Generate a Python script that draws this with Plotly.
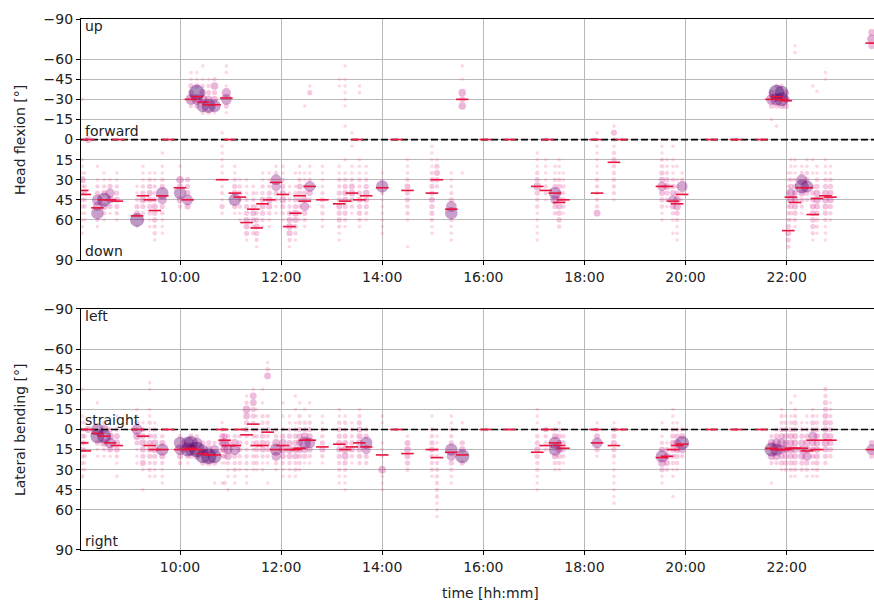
import plotly.graph_objects as go
from plotly.subplots import make_subplots

# ---------------- data ----------------
# Head flexion panel: column times, median per column, (angle, count) per column
flex_times = ["08:04", "08:07", "08:11", "08:22", "08:30", "08:37", "08:45", "08:47",
              "09:09", "09:16", "09:24", "09:30", "09:39", "09:46", "10:00", "10:09",
              "10:13", "10:20", "10:27", "10:34", "10:41", "10:50", "10:55", "10:59",
              "11:05", "11:11", "11:19", "11:27", "11:31", "11:38", "11:46", "11:54",
              "12:02", "12:10", "12:17", "12:22", "12:28", "12:34", "12:49", "13:09",
              "13:16", "13:24", "13:30", "13:33", "13:41", "14:00", "14:17", "14:30",
              "14:59", "15:05", "15:22", "15:35", "16:03", "16:31", "17:04", "17:14",
              "17:16", "17:25", "17:30", "17:35", "18:13", "18:15", "18:35", "18:44",
              "19:32", "19:38", "19:45", "19:50", "19:56", "20:31", "21:00", "21:30",
              "21:42", "21:48", "21:54", "21:59", "22:02", "22:05", "22:10", "22:18",
              "22:24", "22:31", "22:36", "22:46", "22:52", "23:41"]
flex_medians = [38, 41, 0, 51, 45, 45, 46, 0,
                57, 42, 45, 53, 42, 0, 36, 45,
                -30, -32, -28, -26, -26, 30, -31, 0,
                40, 43, 62, 52, 66, 48, 45, 32,
                41, 65, 55, 42, 46, 35, 45, 48,
                46, 40, 0, 45, 42, 36, 0, 38,
                40, 30, 52, -30, 0, 0, 35, 38,
                0, 40, 47, 45, 0, 40, 17, 0,
                35, 35, 46, 48, 41, 0, 0, 0,
                -30, -32, -30, -29, 68, 43, 47, 36,
                36, 56, 44, 42, 43, -72]
flex_points = [
    [(-30, 1), (15, 1), (20, 1), (25, 1), (30, 5), (35, 2), (40, 2), (45, 2), (50, 2), (55, 1), (60, 1), (65, 1), (70, 1)],
    [(25, 1), (35, 2), (40, 3), (45, 2), (50, 2), (55, 1), (60, 1)],
    [(0, 5)],
    [(20, 1), (30, 1), (35, 2), (40, 3), (45, 10), (50, 8), (55, 12), (60, 2), (65, 1)],
    [(25, 1), (30, 1), (35, 2), (40, 4), (45, 14), (50, 5), (55, 2), (60, 1)],
    [(30, 1), (35, 3), (40, 8), (45, 6), (50, 3), (55, 1)],
    [(25, 1), (30, 1), (35, 2), (40, 3), (45, 4), (50, 3), (55, 2), (60, 1)],
    [(0, 1)],
    [(35, 1), (40, 1), (45, 2), (50, 3), (55, 4), (60, 14), (65, 1)],
    [(20, 1), (25, 1), (30, 1), (35, 2), (40, 3), (45, 5), (50, 3), (55, 2), (60, 1)],
    [(25, 1), (30, 2), (35, 3), (40, 4), (45, 4), (50, 3), (55, 2), (60, 1), (65, 1)],
    [(25, 1), (30, 1), (35, 2), (40, 2), (45, 3), (50, 4), (55, 3), (60, 3), (65, 2), (70, 2), (75, 1)],
    [(10, 1), (20, 1), (25, 1), (30, 2), (35, 3), (40, 12), (45, 8), (50, 3), (55, 2), (60, 1), (65, 1), (70, 1)],
    [(0, 1)],
    [(20, 1), (30, 6), (35, 4), (40, 12), (45, 5), (50, 2)],
    [(30, 3), (35, 3), (40, 4), (45, 10), (50, 4)],
    [(-50, 1), (-45, 1), (-40, 3), (-35, 4), (-30, 10), (-25, 2)],
    [(-50, 1), (-45, 1), (-40, 3), (-35, 16), (-30, 10), (-25, 3)],
    [(-55, 1), (-45, 1), (-40, 2), (-35, 5), (-30, 8), (-25, 12), (-20, 2)],
    [(-45, 1), (-40, 2), (-35, 3), (-30, 6), (-25, 14), (-20, 2)],
    [(-45, 2), (-40, 6), (-35, 3), (-30, 5), (-25, 12), (-20, 1)],
    [(-5, 1), (5, 1), (10, 1), (15, 1), (20, 1), (25, 1), (30, 1), (35, 1), (40, 2), (45, 1), (50, 3), (55, 1)],
    [(-55, 1), (-50, 1), (-40, 1), (-35, 8), (-30, 10), (-25, 3), (-20, 1)],
    [(0, 1)],
    [(20, 1), (25, 1), (30, 2), (35, 3), (40, 4), (45, 12), (50, 3), (55, 1)],
    [(30, 1), (35, 2), (40, 3), (45, 2), (50, 2), (55, 1), (60, 1)],
    [(30, 1), (35, 1), (40, 1), (45, 2), (50, 3), (55, 3), (60, 4), (65, 4), (70, 3), (75, 1)],
    [(35, 1), (40, 2), (45, 2), (50, 3), (55, 4), (60, 3), (65, 2), (70, 2)],
    [(40, 1), (50, 1), (55, 2), (60, 3), (65, 4), (70, 3), (75, 2), (80, 1)],
    [(25, 1), (30, 1), (35, 2), (40, 2), (45, 4), (50, 4), (55, 3), (60, 2), (65, 1)],
    [(25, 1), (30, 1), (35, 2), (40, 3), (45, 5), (50, 4), (55, 2), (60, 1), (65, 1)],
    [(20, 1), (25, 2), (30, 10), (35, 8), (40, 3), (45, 2), (50, 1), (55, 1)],
    [(20, 1), (25, 1), (30, 2), (35, 3), (40, 4), (45, 5), (50, 3), (55, 2), (60, 1), (65, 1)],
    [(35, 1), (40, 1), (45, 2), (50, 2), (55, 3), (60, 4), (65, 5), (70, 4), (75, 2), (80, 1)],
    [(25, 1), (35, 1), (40, 2), (45, 3), (50, 3), (55, 5), (60, 4), (65, 3), (70, 2), (75, 1)],
    [(20, 1), (25, 1), (30, 2), (35, 4), (40, 3), (45, 3), (50, 2), (55, 2), (60, 1)],
    [(-25, 1), (25, 1), (30, 1), (35, 2), (40, 3), (45, 4), (50, 8), (55, 3), (60, 2), (65, 1)],
    [(-40, 1), (-35, 3), (20, 1), (25, 1), (30, 2), (35, 10), (40, 4), (45, 2), (50, 1)],
    [(20, 1), (25, 1), (30, 1), (35, 1), (40, 2), (45, 3), (50, 2), (55, 2), (60, 1), (65, 1)],
    [(-45, 1), (-40, 1), (20, 1), (25, 1), (30, 2), (35, 2), (40, 3), (45, 3), (50, 4), (55, 3), (60, 3), (65, 2), (70, 1), (75, 1)],
    [(-55, 1), (-45, 1), (-40, 1), (-35, 1), (-30, 1), (-25, 1), (-10, 1), (15, 1), (25, 1), (30, 2), (35, 3), (40, 4), (45, 4), (50, 3), (55, 3), (60, 2), (65, 1)],
    [(-5, 1), (5, 1), (20, 1), (25, 1), (30, 2), (35, 4), (40, 5), (45, 3), (50, 2), (55, 1)],
    [(0, 1)],
    [(-40, 1), (-35, 1), (15, 1), (20, 1), (25, 1), (30, 2), (35, 2), (40, 3), (45, 4), (50, 3), (55, 3), (60, 2), (65, 1)],
    [(20, 1), (25, 1), (30, 2), (35, 3), (40, 5), (45, 4), (50, 3), (55, 2), (60, 1)],
    [(25, 1), (30, 1), (35, 12), (40, 2), (45, 1), (50, 1), (55, 1), (60, 1), (65, 1), (70, 1)],
    [(0, 1)],
    [(15, 1), (20, 1), (25, 1), (30, 2), (35, 4), (40, 3), (45, 3), (50, 2), (55, 2), (60, 1), (80, 1)],
    [(0, 1), (5, 1), (10, 1), (15, 1), (20, 1), (25, 2), (30, 3), (35, 3), (40, 3), (45, 4), (50, 3), (55, 3), (60, 2), (65, 1), (70, 1)],
    [(15, 1), (20, 3), (25, 4), (30, 3), (35, 2)],
    [(25, 1), (30, 1), (35, 1), (40, 2), (45, 3), (50, 10), (55, 12), (60, 2), (65, 1), (70, 1), (75, 1)],
    [(-55, 1), (-45, 1), (-35, 6), (-30, 4), (-25, 6), (25, 1)],
    [(0, 1)],
    [(0, 1)],
    [(10, 1), (15, 1), (20, 1), (25, 2), (30, 3), (35, 6), (40, 3), (45, 2), (50, 2), (55, 1), (60, 1), (65, 1), (70, 1), (75, 1)],
    [(0, 1), (15, 1), (20, 1), (25, 1), (30, 1), (35, 2), (40, 2), (45, 1)],
    [(0, 1)],
    [(20, 1), (25, 1), (30, 2), (35, 3), (40, 12), (45, 8), (50, 3), (55, 2)],
    [(15, 1), (20, 1), (25, 1), (30, 2), (35, 3), (40, 3), (45, 4), (50, 4), (55, 3), (60, 3), (65, 2)],
    [(25, 1), (30, 1), (35, 2), (40, 2), (45, 3), (50, 2), (55, 1)],
    [(0, 1)],
    [(-5, 1), (5, 1), (10, 1), (15, 1), (20, 1), (25, 1), (30, 2), (35, 2), (40, 2), (45, 2), (50, 2), (55, 5)],
    [(-10, 1), (-5, 4), (0, 2), (5, 1), (10, 2), (15, 3), (20, 2), (25, 2), (30, 2), (35, 2), (40, 2), (45, 1)],
    [(0, 1)],
    [(0, 1), (5, 1), (10, 1), (15, 2), (20, 2), (25, 3), (30, 4), (35, 8), (40, 4), (45, 3), (50, 2), (55, 1), (60, 1)],
    [(0, 1), (15, 1), (20, 1), (25, 2), (30, 3), (35, 5), (40, 3), (45, 2), (50, 1)],
    [(0, 1), (5, 1), (15, 1), (20, 1), (25, 1), (30, 2), (35, 3), (40, 4), (45, 8), (50, 4), (55, 2), (60, 1), (70, 1)],
    [(20, 1), (30, 1), (35, 2), (40, 3), (45, 6), (50, 6), (55, 3), (60, 2), (65, 1), (70, 1), (75, 1)],
    [(25, 1), (30, 2), (35, 10), (40, 2), (45, 1)],
    [(0, 1)],
    [(0, 1)],
    [(0, 1)],
    [(-35, 4), (-30, 10), (-25, 3), (-15, 1)],
    [(-40, 2), (-35, 16), (-30, 12), (-25, 3), (-10, 1)],
    [(-40, 2), (-35, 14), (-30, 14), (-25, 4)],
    [(-35, 3), (-30, 6), (-25, 4)],
    [(25, 1), (30, 1), (35, 1), (40, 1), (45, 1), (50, 2), (55, 2), (60, 2), (65, 3), (70, 4), (75, 3), (80, 2)],
    [(15, 1), (20, 1), (25, 1), (30, 2), (35, 3), (40, 8), (45, 6), (50, 3), (55, 2), (60, 1)],
    [(-70, 1), (-65, 1), (15, 1), (20, 1), (25, 1), (30, 2), (35, 3), (40, 4), (45, 5), (50, 4), (55, 3), (60, 2), (65, 1)],
    [(20, 1), (25, 2), (30, 10), (35, 14), (40, 5), (45, 3), (50, 2), (55, 1)],
    [(15, 1), (20, 1), (25, 2), (30, 3), (35, 12), (40, 3), (45, 2)],
    [(-40, 1), (15, 1), (25, 1), (35, 2), (40, 3), (45, 3), (50, 4), (55, 4), (60, 3), (65, 3), (70, 2), (75, 1)],
    [(-36, 1), (20, 1), (25, 1), (30, 2), (35, 3), (40, 5), (45, 6), (50, 4), (55, 3), (60, 2), (65, 2), (70, 1)],
    [(-50, 1), (-45, 1), (15, 1), (20, 1), (25, 1), (30, 2), (35, 3), (40, 5), (45, 5), (50, 4), (55, 3), (60, 2), (65, 1), (70, 1), (75, 1)],
    [(20, 1), (25, 1), (30, 2), (35, 3), (40, 4), (45, 5), (50, 3), (55, 2), (60, 1)],
    [(-80, 5), (-75, 8), (-70, 5)],
]

# Lateral bending panel
lat_times = ["08:04", "08:07", "08:11", "08:22", "08:30", "08:37", "08:45", "09:09",
             "09:16", "09:24", "09:30", "09:39", "09:46", "10:00", "10:09", "10:13",
             "10:20", "10:27", "10:34", "10:41", "10:50", "10:53", "10:57", "11:05",
             "11:11", "11:19", "11:27", "11:31", "11:38", "11:44", "11:54", "12:02",
             "12:10", "12:17", "12:22", "12:28", "12:34", "12:49", "13:09", "13:16",
             "13:24", "13:33", "13:41", "14:00", "14:17", "14:30", "14:59", "15:05",
             "15:22", "15:35", "16:03", "16:31", "17:04", "17:14", "17:16", "17:25",
             "17:30", "17:35", "18:13", "18:15", "18:35", "18:44", "19:32", "19:38",
             "19:45", "19:50", "19:56", "20:31", "21:00", "21:30", "21:42", "21:48",
             "21:54", "21:59", "22:05", "22:10", "22:18", "22:24", "22:31", "22:36",
             "22:46", "22:52", "23:41"]
lat_medians = [10, 16, 0, 3, 5, 10, 12, 0,
               5, 12, 15, 15, 0, 15, 15, 14,
               15, 18, 19, 19, 0, 8, 12, 12,
               0, 4, -4, 12, 12, 2, 15, 12,
               15, 15, 14, 8, 8, 13, 11, 15,
               13, 10, 13, 19, 0, 18, 15, 21,
               17, 19, 0, 0, 17, 12, 0, 10,
               12, 14, 0, 10, 12, 0, 21, 20,
               15, 12, 11, 0, 0, 0, 14, 15,
               15, 15, 14, 14, 14, 16, 8, 15,
               8, 8, 15]
lat_points = [
    [(-30, 1), (-10, 1), (-5, 1), (0, 2), (5, 3), (10, 3), (15, 3), (20, 2), (25, 2), (30, 1), (35, 2)],
    [(-5, 1), (0, 1), (5, 2), (10, 2), (15, 2), (20, 2), (25, 1), (30, 1)],
    [(0, 5)],
    [(-20, 1), (0, 12), (5, 14), (10, 3), (15, 1), (20, 1)],
    [(-5, 2), (0, 8), (5, 14), (10, 6), (15, 2), (20, 1)],
    [(0, 3), (5, 6), (10, 10), (15, 4), (20, 1)],
    [(-10, 1), (0, 2), (5, 4), (10, 5), (15, 4), (20, 2), (25, 1), (35, 1)],
    [(-15, 1), (-10, 1), (-5, 3), (0, 10), (5, 6), (10, 3), (15, 1), (20, 1), (25, 1)],
    [(-5, 1), (0, 3), (5, 4), (10, 5), (15, 4), (20, 3), (25, 4), (30, 1), (45, 1)],
    [(-35, 1), (-30, 1), (-15, 1), (-10, 1), (-5, 2), (0, 2), (5, 3), (10, 4), (15, 4), (20, 3), (25, 2), (30, 2), (35, 1)],
    [(-5, 1), (0, 2), (5, 3), (10, 5), (15, 5), (20, 3), (25, 2), (30, 1), (35, 1)],
    [(0, 1), (5, 2), (10, 4), (15, 12), (20, 4), (25, 2), (30, 1), (35, 1), (40, 1)],
    [(0, 1)],
    [(5, 2), (10, 12), (15, 10), (20, 4), (25, 2)],
    [(10, 12), (15, 14), (20, 3), (25, 1)],
    [(5, 3), (10, 14), (15, 12), (20, 3)],
    [(5, 2), (10, 10), (15, 16), (20, 5)],
    [(10, 3), (15, 10), (20, 14), (25, 3)],
    [(10, 3), (15, 6), (20, 16), (25, 4)],
    [(10, 2), (15, 8), (20, 14), (25, 3), (40, 1)],
    [(-5, 1), (0, 2), (5, 4), (10, 6), (15, 3), (20, 2), (25, 1), (40, 1)],
    [(0, 1), (5, 4), (10, 8), (15, 6), (20, 3), (25, 1), (40, 2)],
    [(5, 2), (10, 4), (15, 8), (20, 6), (25, 2), (30, 1), (35, 1), (45, 1)],
    [(5, 2), (10, 6), (15, 10), (20, 3), (25, 2), (30, 2), (35, 1), (40, 1)],
    [(0, 1), (5, 2), (10, 3), (15, 3), (20, 2), (25, 2), (30, 1)],
    [(-25, 1), (-20, 2), (-15, 6), (-10, 5), (-5, 3), (0, 3), (5, 2), (10, 2), (15, 2), (20, 2), (25, 2), (30, 1), (35, 1), (40, 1)],
    [(-30, 1), (-25, 5), (-20, 5), (-15, 3), (-10, 3), (-5, 2), (0, 2), (5, 2), (10, 2), (15, 2), (20, 2), (25, 2), (30, 1)],
    [(-15, 1), (-10, 1), (0, 2), (5, 2), (10, 3), (15, 3), (20, 2), (25, 2), (30, 1)],
    [(-30, 1), (-20, 1), (-10, 2), (-5, 2), (0, 2), (5, 3), (10, 4), (15, 4), (20, 2), (25, 1), (30, 1)],
    [(-50, 1), (-45, 2), (-40, 5), (-10, 2), (-5, 2), (0, 3), (5, 2), (10, 3), (15, 3), (20, 2), (25, 1), (40, 1)],
    [(0, 2), (5, 2), (10, 6), (15, 12), (20, 8), (25, 2), (30, 1)],
    [(-20, 1), (-10, 1), (0, 2), (5, 3), (10, 6), (15, 6), (20, 4), (25, 2), (30, 1), (35, 1)],
    [(-10, 1), (-5, 1), (0, 2), (5, 3), (10, 4), (15, 6), (20, 4), (25, 2), (30, 1), (35, 1)],
    [(-25, 1), (-15, 1), (-5, 1), (0, 2), (5, 3), (10, 4), (15, 5), (20, 4), (25, 2), (30, 2), (35, 1)],
    [(-20, 1), (-10, 2), (-5, 2), (0, 3), (5, 4), (10, 5), (15, 5), (20, 3), (25, 2), (30, 1)],
    [(-15, 1), (-5, 2), (0, 3), (5, 6), (10, 12), (15, 5), (20, 3), (25, 1)],
    [(-20, 1), (-10, 1), (-5, 2), (0, 3), (5, 4), (10, 10), (15, 4), (20, 2), (25, 1)],
    [(-10, 1), (-5, 1), (0, 2), (5, 2), (10, 3), (15, 4), (20, 2), (25, 1)],
    [(-15, 1), (-10, 1), (-5, 2), (0, 3), (5, 3), (10, 4), (15, 4), (20, 3), (25, 2), (30, 2), (35, 1), (40, 1)],
    [(-10, 1), (-5, 2), (0, 2), (5, 3), (10, 4), (15, 6), (20, 5), (25, 3), (30, 2), (35, 1), (40, 1), (45, 1)],
    [(-5, 1), (0, 2), (5, 2), (10, 3), (15, 4), (20, 2), (25, 1)],
    [(-15, 1), (-10, 2), (-5, 3), (0, 4), (5, 4), (10, 5), (15, 4), (20, 3), (25, 2)],
    [(0, 2), (5, 3), (10, 12), (15, 8), (20, 3), (25, 2)],
    [(-10, 1), (-5, 1), (10, 1), (15, 1), (20, 1), (30, 6), (35, 1), (40, 1), (45, 1)],
    [(0, 1)],
    [(5, 1), (10, 4), (15, 5), (20, 4), (25, 3), (30, 2)],
    [(-10, 1), (0, 2), (5, 2), (10, 3), (15, 4), (20, 3), (25, 2), (30, 2), (35, 1)],
    [(0, 1), (5, 1), (10, 1), (15, 2), (20, 2), (25, 2), (30, 2), (35, 2), (40, 2), (45, 2), (50, 2), (55, 1), (60, 1), (65, 1)],
    [(-10, 1), (-5, 1), (0, 2), (5, 2), (10, 3), (15, 12), (20, 8), (25, 3), (30, 2), (35, 1), (40, 1)],
    [(-5, 1), (0, 1), (10, 3), (15, 5), (20, 14), (25, 3)],
    [(0, 1)],
    [(0, 1)],
    [(-15, 1), (-10, 1), (-5, 1), (0, 1), (5, 2), (10, 3), (15, 4), (20, 3), (25, 2), (30, 2), (35, 1), (40, 1), (45, 1)],
    [(0, 3), (5, 2), (10, 2), (15, 2)],
    [(0, 1)],
    [(0, 2), (5, 4), (10, 12), (15, 12), (20, 4), (25, 2), (30, 1)],
    [(-5, 1), (0, 2), (5, 3), (10, 4), (15, 6), (20, 3), (25, 2), (30, 1)],
    [(0, 1), (5, 2), (10, 3), (15, 3), (20, 2), (25, 1)],
    [(0, 1)],
    [(-5, 1), (0, 2), (5, 4), (10, 10), (15, 3), (20, 1)],
    [(-5, 1), (0, 3), (5, 3), (10, 4), (15, 3), (20, 2), (25, 1), (30, 1), (35, 1), (40, 1), (45, 1), (50, 1), (55, 1)],
    [(0, 1)],
    [(-5, 1), (5, 1), (10, 2), (15, 4), (20, 12), (25, 6), (30, 3), (35, 1), (40, 1)],
    [(0, 1), (10, 1), (15, 3), (20, 5), (25, 4), (30, 2)],
    [(-15, 1), (-10, 1), (-5, 1), (0, 2), (5, 3), (10, 4), (15, 4), (20, 3), (25, 2), (30, 1), (35, 1), (50, 1)],
    [(-5, 1), (0, 2), (5, 3), (10, 6), (15, 5), (20, 3), (25, 2), (30, 1)],
    [(0, 2), (5, 4), (10, 14), (15, 6), (20, 2)],
    [(0, 1)],
    [(0, 1)],
    [(0, 1)],
    [(5, 2), (10, 6), (15, 14), (20, 6), (25, 2), (40, 1)],
    [(0, 2), (5, 3), (10, 8), (15, 12), (20, 6), (25, 2)],
    [(-15, 1), (-10, 2), (-5, 2), (0, 3), (5, 4), (10, 8), (15, 8), (20, 4), (25, 3), (30, 1)],
    [(-10, 1), (-5, 2), (0, 3), (5, 4), (10, 5), (15, 6), (20, 4), (25, 3), (30, 2)],
    [(-20, 1), (-10, 1), (-5, 2), (0, 3), (5, 4), (10, 5), (15, 6), (20, 4), (25, 3), (30, 2), (35, 1)],
    [(-25, 1), (-15, 1), (-10, 2), (-5, 3), (0, 3), (5, 4), (10, 5), (15, 5), (20, 4), (25, 3), (30, 2), (35, 1)],
    [(-5, 1), (0, 2), (5, 3), (10, 5), (15, 6), (20, 5), (25, 3), (30, 2)],
    [(-10, 1), (-5, 1), (0, 2), (5, 3), (10, 5), (15, 6), (20, 8), (25, 3), (30, 2), (35, 1)],
    [(-15, 1), (-10, 2), (-5, 3), (0, 3), (5, 8), (10, 5), (15, 4), (20, 3), (25, 2), (30, 1), (35, 1)],
    [(-10, 1), (-5, 2), (0, 3), (5, 4), (10, 5), (15, 5), (20, 4), (25, 3), (30, 2), (35, 1)],
    [(-30, 2), (-25, 2), (-20, 3), (-15, 3), (-10, 4), (-5, 4), (0, 4), (5, 5), (10, 6), (15, 4), (20, 3), (25, 2)],
    [(-20, 1), (-15, 1), (-10, 2), (-5, 3), (0, 3), (5, 4), (10, 4), (15, 3), (20, 2)],
    [(10, 4), (15, 10), (20, 3)],
]

y_ticks = [-90, -60, -45, -30, -15, 0, 15, 30, 45, 60, 90]
x_ticks = ["10:00", "12:00", "14:00", "16:00", "18:00", "20:00", "22:00"]
x_range = ["08:02:30", "23:43:40"]
DAY = "2020-01-01 "

# ---------------- styling helpers ----------------
STOPS = [(1, (247, 104, 161, 0.36)), (4, (221, 52, 151, 0.45)),
         (9, (150, 20, 130, 0.52)), (16, (70, 0, 106, 0.62))]


def color_for(n):
    n = max(1, min(n, 16))
    for (a, ca), (b, cb) in zip(STOPS[:-1], STOPS[1:]):
        if a <= n <= b:
            t = (n - a) / (b - a)
            c = [ca[i] + (cb[i] - ca[i]) * t for i in range(4)]
            return "rgba(%d,%d,%d,%.3f)" % (c[0], c[1], c[2], c[3])
    return "rgba(70,0,106,0.62)"


def size_for(n):
    return 3.6 + 0.8 * (min(n, 16) - 1)


def flatten(times, points):
    rows = []
    for t, col in zip(times, points):
        for ang, n in col:
            rows.append((n, DAY + t, ang))
    rows.sort(key=lambda r: r[0])
    return ([r[1] for r in rows], [r[2] for r in rows], [r[0] for r in rows])


fig = make_subplots(rows=2, cols=1, vertical_spacing=0.0)

for row, (times, meds, pts) in enumerate([(flex_times, flex_medians, flex_points),
                                           (lat_times, lat_medians, lat_points)], start=1):
    xs, ys, ns = flatten(times, pts)
    fig.add_trace(go.Scatter(
        x=xs, y=ys, mode="markers", showlegend=False, hoverinfo="skip", cliponaxis=True,
        marker=dict(size=[size_for(n) for n in ns], color=[color_for(n) for n in ns],
                    line=dict(width=0))), row=row, col=1)
    fig.add_trace(go.Scatter(
        x=[DAY + x_range[0], DAY + x_range[1]], y=[0, 0], mode="lines", showlegend=False,
        hoverinfo="skip", line=dict(color="black", width=1.7, dash="7px,3px")), row=row, col=1)
    fig.add_trace(go.Scatter(
        x=[DAY + t for t in times], y=meds, mode="markers", showlegend=False, hoverinfo="skip",
        marker=dict(symbol="line-ew", size=9, line=dict(color="#e8143c", width=1.6))),
        row=row, col=1)

axis_font = dict(family="DejaVu Sans", size=14, color="#222")
for r in (1, 2):
    fig.update_xaxes(type="date", range=[DAY + x_range[0], DAY + x_range[1]],
                     tickvals=[DAY + t for t in x_ticks], ticktext=x_ticks, automargin=False,
                     showgrid=True, gridcolor="#b8b8b8", gridwidth=1,
                     showline=True, linecolor="black", linewidth=1.2, mirror=True,
                     ticks="outside", ticklen=4, tickcolor="black", tickfont=axis_font,
                     zeroline=False, row=r, col=1)
    fig.update_yaxes(range=[90, -90], tickvals=y_ticks, automargin=False,
                     ticktext=["\u2212%d" % -v if v < 0 else str(v) for v in y_ticks],
                     showgrid=True, gridcolor="#b8b8b8", gridwidth=1,
                     showline=True, linecolor="black", linewidth=1.2, mirror=True,
                     ticks="outside", ticklen=4, tickcolor="black", tickfont=axis_font,
                     zeroline=False, row=r, col=1)

fig.update_layout(
    width=874, height=604, margin=dict(l=81, r=0, t=19, b=54, autoexpand=False),
    plot_bgcolor="white", paper_bgcolor="white",
    xaxis=dict(domain=[0, 1]), yaxis=dict(domain=[0.546, 1.0]),
    xaxis2=dict(domain=[0, 1]), yaxis2=dict(domain=[0.0, 0.4539]),
    font=dict(family="DejaVu Sans", size=14, color="#222"),
)

label_font = dict(family="DejaVu Sans", size=14, color="#222")
labels = [("x domain", "y domain", "up", 1.0, "top"),
          ("x domain", "y", "forward", 0, "bottom"),
          ("x domain", "y domain", "down", 0.0, "bottom"),
          ("x2 domain", "y2 domain", "left", 1.0, "top"),
          ("x2 domain", "y2", "straight", 0, "bottom"),
          ("x2 domain", "y2 domain", "right", 0.0, "bottom")]
for xref, yref, txt, yv, ya in labels:
    fig.add_annotation(xref=xref, yref=yref, x=0, y=yv, text=txt, showarrow=False,
                       xanchor="left", yanchor=ya, xshift=2, yshift=3 if ya == "top" else -1,
                       font=label_font)

fig.add_annotation(xref="paper", yref="paper", x=-0.0769, y=0.772, text="Head flexion [°]",
                   textangle=-90, showarrow=False, xanchor="center", yanchor="middle",
                   font=label_font)
fig.add_annotation(xref="paper", yref="paper", x=-0.0769, y=0.226, text="Lateral bending [°]",
                   textangle=-90, showarrow=False, xanchor="center", yanchor="middle",
                   font=label_font)
fig.add_annotation(xref="paper", yref="paper", x=0.516, y=-0.081, text="time [hh:mm]",
                   showarrow=False, xanchor="center", yanchor="middle", font=label_font)

fig.write_html("out.html", config={"displayModeBar": False},
               post_script="document.body.style.margin='0';document.body.style.overflow='hidden';")
